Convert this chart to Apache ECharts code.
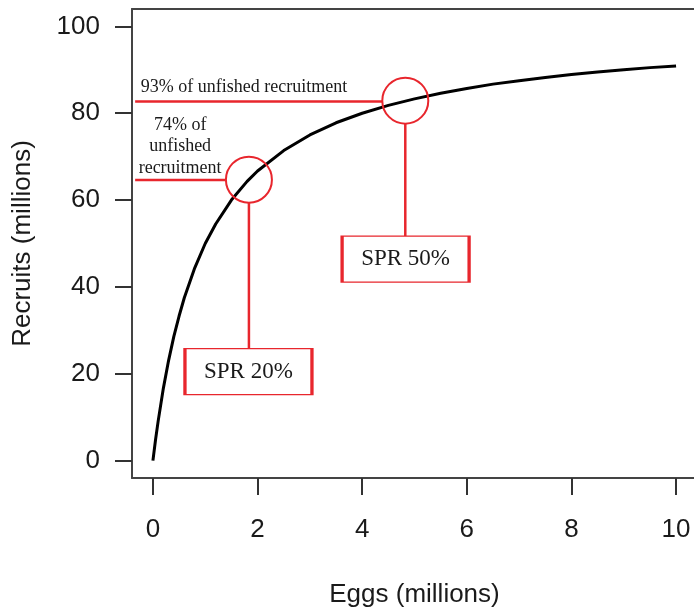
<!DOCTYPE html>
<html>
<head>
<meta charset="utf-8">
<script src="https://cdn.jsdelivr.net/npm/echarts@6/dist/echarts.min.js"></script>
<style>html,body{margin:0;padding:0;background:#fff}#c{width:694px;height:610px}</style>
</head>
<body>
<div id="c"></div>
<script>
// Stock–recruitment curve
const eggs = [0, 0.05, 0.1, 0.2, 0.3, 0.4, 0.5, 0.6, 0.8, 1, 1.2, 1.5, 1.8, 2, 2.5, 3, 3.5, 4, 4.5, 5, 5.5, 6, 6.5, 7, 7.5, 8, 8.5, 9, 9.5, 10];
const recruits = [0, 4.8, 9.1, 16.7, 23.1, 28.6, 33.3, 37.5, 44.4, 50, 54.5, 60, 64.3, 66.7, 71.4, 75, 77.8, 80, 81.8, 83.3, 84.6, 85.7, 86.7, 87.5, 88.2, 88.9, 89.5, 90, 90.5, 90.9];
const xTicks = [0, 2, 4, 6, 8, 10];
const yTicks = [0, 20, 40, 60, 80, 100];

// Annotation reference points (data units)
const sprPoints = [[1.835, 64.7], [4.824, 82.9]];             // circled points
const sprLabels = ['SPR 20%', 'SPR 50%'];
const sprBoxes = [[1.826, 20.5], [4.83, 46.4]];                // label box centres
const hLines = [[[-0.34, 64.6], [1.396, 64.6]], [[-0.34, 82.7], [4.385, 82.7]]];
const vLines = [[[1.835, 59.4], [1.835, 25.6]], [[4.824, 77.7], [4.824, 51.7]]];
const notes = [[0.52, 72.3, '74% of\nunfished\nrecruitment'], [1.74, 86.0, '93% of unfished recruitment']];

const RED = '#e8262d';
const SERIF = '"Liberation Serif","Times New Roman",serif';
const SANS = '"Liberation Sans",Arial,sans-serif';
const TXT = '#1a1a1a';
const BOX = '#444';

const series = [];
series.push({
  type: 'line', data: eggs.map((e, i) => [e, recruits[i]]),
  showSymbol: false, smooth: false, z: 5,
  lineStyle: { color: '#000', width: 3 }
});
hLines.concat(vLines).forEach(seg => series.push({
  type: 'line', data: seg, showSymbol: false, z: 4,
  lineStyle: { color: RED, width: 2.5 }
}));
series.push({
  type: 'scatter', data: sprPoints, symbol: 'circle', symbolSize: 46, z: 6,
  itemStyle: { color: 'rgba(0,0,0,0)', borderColor: RED, borderWidth: 2, opacity: 1 }
});
series.push({
  type: 'scatter', data: sprBoxes.map((p, i) => ({ value: p, name: sprLabels[i] })),
  symbol: 'rect', symbolSize: [127, 46], z: 6,
  itemStyle: { color: '#fff', borderColor: RED, borderWidth: 2, opacity: 1 },
  label: { show: true, position: 'inside', formatter: p => p.name, fontFamily: SERIF, fontSize: 23, color: TXT }
});
series.push({
  type: 'scatter', data: notes.map(n => ({ value: [n[0], n[1]], name: n[2] })),
  symbolSize: 0, z: 7, itemStyle: { opacity: 1 },
  label: { show: true, position: 'inside', formatter: p => p.name, fontFamily: SERIF, fontSize: 18, lineHeight: 21.5, color: TXT, align: 'center' }
});

const chart = echarts.init(document.getElementById('c'));
chart.setOption({
  animation: false,
  grid: { left: 132, top: 9, width: 565, height: 469, show: false, outerBoundsMode: 'none', containLabel: false },
  xAxis: [{
    type: 'value', min: -0.4, max: 10.4, position: 'bottom',
    name: 'Eggs (millions)', nameLocation: 'middle', nameGap: 104,
    nameTextStyle: { fontFamily: SANS, fontSize: 26, color: TXT },
    axisLine: { show: true, onZero: false, lineStyle: { color: BOX, width: 2 } }, splitLine: { show: false },
    axisTick: { show: true, inside: false, customValues: xTicks, length: 17, lineStyle: { color: '#333', width: 2 } },
    axisLabel: { customValues: xTicks, margin: 39, fontFamily: SANS, fontSize: 26, color: TXT }
  }, {
    type: 'value', min: -0.4, max: 10.4, position: 'top',
    axisLine: { show: true, onZero: false, lineStyle: { color: BOX, width: 2 } },
    axisTick: { show: false }, axisLabel: { show: false }, splitLine: { show: false }
  }],
  yAxis: {
    type: 'value', min: -4, max: 104, position: 'left',
    name: 'Recruits (millions)', nameLocation: 'middle', nameGap: 96,
    nameTextStyle: { fontFamily: SANS, fontSize: 26, color: TXT },
    axisLine: { show: true, onZero: false, lineStyle: { color: BOX, width: 2 } }, splitLine: { show: false },
    axisTick: { show: true, inside: false, customValues: yTicks, length: 17, lineStyle: { color: '#333', width: 2 } },
    axisLabel: { customValues: yTicks, margin: 32, fontFamily: SANS, fontSize: 26, color: TXT }
  },
  series: series
});
</script>
</body>
</html>
